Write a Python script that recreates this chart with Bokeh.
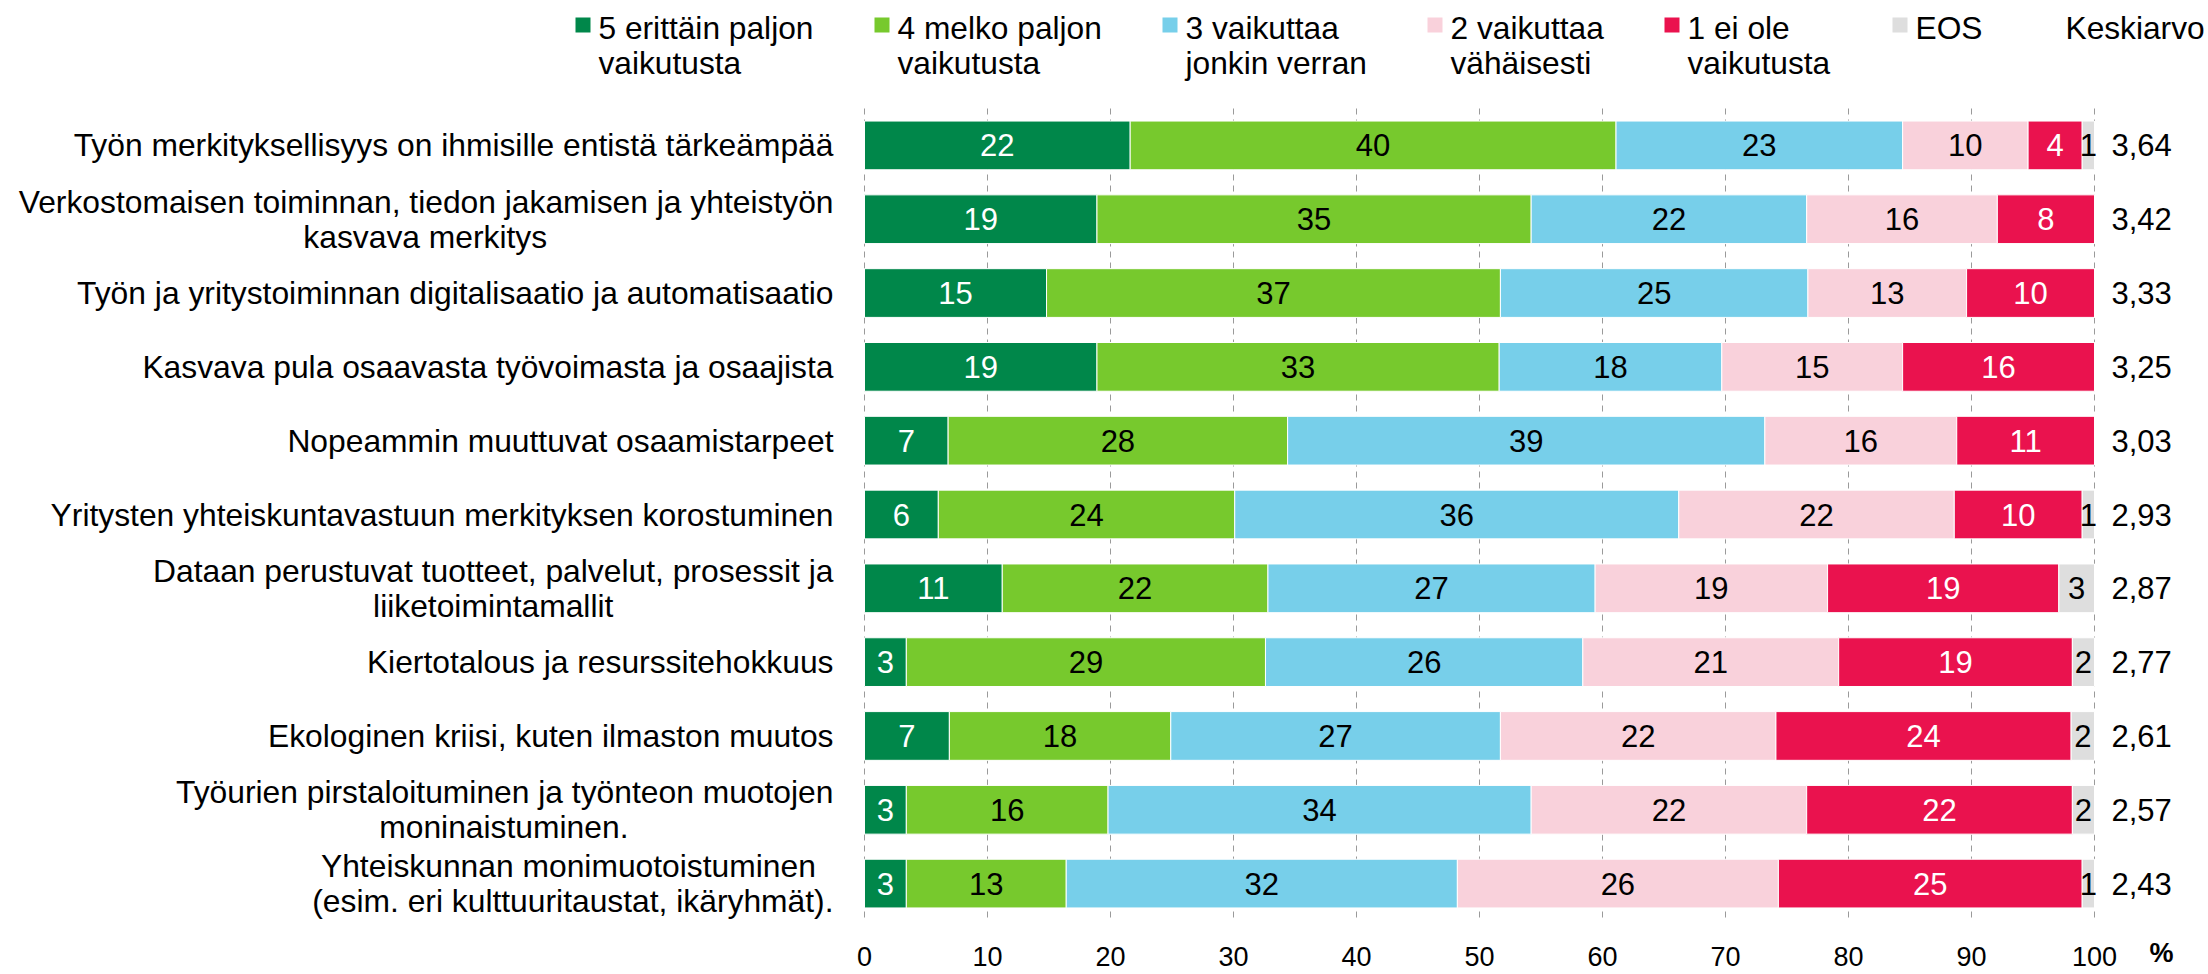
from bokeh.plotting import figure
from bokeh.models import Range1d, LabelSet, ColumnDataSource
from bokeh.core.properties import value
from bokeh.embed import file_html
from bokeh.resources import INLINE

# ---------------- data ----------------
categories = [
    "Työn merkityksellisyys on ihmisille entistä tärkeämpää",
    "Verkostomaisen toiminnan, tiedon jakamisen ja yhteistyön\nkasvava merkitys",
    "Työn ja yritystoiminnan digitalisaatio ja automatisaatio",
    "Kasvava pula osaavasta työvoimasta ja osaajista",
    "Nopeammin muuttuvat osaamistarpeet",
    "Yritysten yhteiskuntavastuun merkityksen korostuminen",
    "Dataan perustuvat tuotteet, palvelut, prosessit ja\nliiketoimintamallit",
    "Kiertotalous ja resurssitehokkuus",
    "Ekologinen kriisi, kuten ilmaston muutos",
    "Työurien pirstaloituminen ja työnteon muotojen\nmoninaistuminen.",
    "Yhteiskunnan monimuotoistuminen \n(esim. eri kulttuuritaustat, ikäryhmät).",
]
s5 = [21.6, 18.9, 14.8, 18.9, 6.8, 6.0, 11.2, 3.4, 6.9, 3.4, 3.4]
s4 = [39.5, 35.3, 36.9, 32.7, 27.6, 24.1, 21.6, 29.2, 18.0, 16.4, 13.0]
s3 = [23.3, 22.4, 25.0, 18.1, 38.8, 36.1, 26.6, 25.8, 26.8, 34.4, 31.8]
s2 = [10.2, 15.5, 12.9, 14.7, 15.6, 22.4, 18.9, 20.8, 22.4, 22.4, 26.1]
s1 = [4.4, 7.9, 10.4, 15.6, 11.2, 10.4, 18.8, 19.0, 24.0, 21.6, 24.7]
eos = [1.0, 0.0, 0.0, 0.0, 0.0, 1.0, 2.9, 1.8, 1.9, 1.8, 1.0]
means = [3.64, 3.42, 3.33, 3.25, 3.03, 2.93, 2.87, 2.77, 2.61, 2.57, 2.43]
series_names = ["5 erittäin paljon\nvaikutusta", "4 melko paljon\nvaikutusta",
                "3 vaikuttaa\njonkin verran", "2 vaikuttaa\nvähäisesti",
                "1 ei ole\nvaikutusta", "EOS"]
mean_header = "Keskiarvo"
x_ticks = [0, 10, 20, 30, 40, 50, 60, 70, 80, 90, 100]
x_unit = "%"

# ---------------- style ----------------
colors = ["#00874A", "#77C92D", "#77CFEA", "#F9D1DB", "#EA124E", "#DEDEDE"]
label_colors = ["white", "black", "black", "black", "white", "black"]
FONT = value("Liberation Sans")
W, H = 2208, 974
FL, FR, FT, FB = 864, 2094, 108, 920   # bar area edges in canvas px
N = len(categories)
PXX = (FR - FL) / 100.0
PXY = (FB - FT) / float(N)


def xd(px):
    return (px - FL) / PXX


def yd(py):
    return -0.5 + (py - FT) / PXY


AW = {' ': 278, 'a': 556, 'b': 556, 'c': 500, 'd': 556, 'e': 556, 'f': 278, 'g': 556,
      'h': 556, 'i': 222, 'j': 222, 'k': 500, 'l': 222, 'm': 833, 'n': 556, 'o': 556,
      'p': 556, 'q': 556, 'r': 333, 's': 500, 't': 278, 'u': 556, 'v': 500, 'w': 722,
      'x': 500, 'y': 500, 'z': 500, 'ä': 556, 'ö': 556, 'T': 611, 'V': 667, 'K': 667,
      'D': 722, 'N': 722, 'Y': 667, 'E': 667, 'O': 778, 'S': 667, '.': 278, ',': 278,
      '(': 333, ')': 333}


def tw(s, size):
    return sum(AW.get(c, 556) for c in s) / 1000.0 * size


p = figure(width=W, height=H, x_range=Range1d(xd(0), xd(W)), y_range=Range1d(yd(H), yd(0)),
           output_backend="svg", toolbar_location=None,
           min_border_left=0, min_border_right=0, min_border_top=0, min_border_bottom=0)
p.outline_line_color = None
p.axis.visible = False
p.grid.visible = False

# dashed vertical gridlines
p.segment(x0=x_ticks, x1=x_ticks, y0=[-0.5] * len(x_ticks), y1=[N - 0.5] * len(x_ticks),
          line_color="#9a9a9a", line_dash="6 5", line_width=1)

keys = ["s5", "s4", "s3", "s2", "s1", "eos"]
vals = [s5, s4, s3, s2, s1, eos]
src = ColumnDataSource(dict(y=list(range(N)), **{k: v for k, v in zip(keys, vals)}))
p.hbar_stack(keys, y="y", height=0.66, color=colors, source=src,
             line_color="white", line_width=1)

# bar value labels
bx, by, bt, bc = [], [], [], []
for i in range(N):
    cum = 0.0
    for j, v in enumerate(vals):
        val = v[i]
        if val > 0:
            bx.append(cum + val / 2.0)
            by.append(i)
            bt.append(str(int(round(val))))
            bc.append(label_colors[j])
        cum += val
p.add_layout(LabelSet(x="x", y="y", text="t", text_color="c", source=ColumnDataSource(dict(x=bx, y=by, t=bt, c=bc)),
                      text_align="center", text_baseline="middle", text_font=FONT, text_font_size="31px"))

# category labels
CAT_SIZE = 31.8
LINE_H = 35
RIGHT = 833
cx, cy, ct, ca = [], [], [], []
for i, lab in enumerate(categories):
    lines = lab.split("\n")
    widths = [tw(l, CAT_SIZE) for l in lines]
    wmax = max(widths)
    n = len(lines)
    for k, (l, w) in enumerate(zip(lines, widths)):
        cy.append(i + (k - (n - 1) / 2.0) * LINE_H / PXY)
        ct.append(l)
        if w >= wmax - 0.01:
            cx.append(xd(RIGHT)); ca.append("right")
        else:
            cx.append(xd(RIGHT - wmax / 2.0)); ca.append("center")
p.add_layout(LabelSet(x="x", y="y", text="t", text_align="a", source=ColumnDataSource(dict(x=cx, y=cy, t=ct, a=ca)),
                      text_baseline="middle", text_font=FONT, text_font_size="%.1fpx" % CAT_SIZE, text_color="black"))

# mean values
mt = [("%.2f" % m).replace(".", ",") for m in means]
p.add_layout(LabelSet(x="x", y="y", text="t", source=ColumnDataSource(dict(x=[xd(2111)] * N, y=list(range(N)), t=mt)),
                      text_align="left", text_baseline="middle", text_font=FONT, text_font_size="31px", text_color="black"))

# x tick labels and unit
p.add_layout(LabelSet(x="x", y="y", text="t",
                      source=ColumnDataSource(dict(x=x_ticks, y=[yd(956)] * len(x_ticks), t=[str(t) for t in x_ticks])),
                      text_align="center", text_baseline="middle", text_font=FONT, text_font_size="27px", text_color="black"))
p.add_layout(LabelSet(x="x", y="y", text="t", source=ColumnDataSource(dict(x=[xd(2149)], y=[yd(952)], t=[x_unit])),
                      text_align="left", text_baseline="middle", text_font=FONT, text_font_size="27px",
                      text_font_style="bold", text_color="black"))

# legend
sq_left = [575, 874, 1162, 1427, 1664, 1892]
p.quad(left=[xd(v) for v in sq_left], right=[xd(v + 15) for v in sq_left],
       top=[yd(17)] * len(sq_left), bottom=[yd(32)] * len(sq_left), fill_color=colors, line_color=None)
lx, ly, lt = [], [], []
for j, name in enumerate(series_names):
    for k, l in enumerate(name.split("\n")):
        lx.append(xd(sq_left[j] + 23)); ly.append(yd(27 + k * LINE_H)); lt.append(l)
lx.append(xd(2065)); ly.append(yd(27)); lt.append(mean_header)
p.add_layout(LabelSet(x="x", y="y", text="t", source=ColumnDataSource(dict(x=lx, y=ly, t=lt)),
                      text_align="left", text_baseline="middle", text_font=FONT, text_font_size="31.7px", text_color="black"))

open("out.html", "w").write(file_html(p, INLINE))
